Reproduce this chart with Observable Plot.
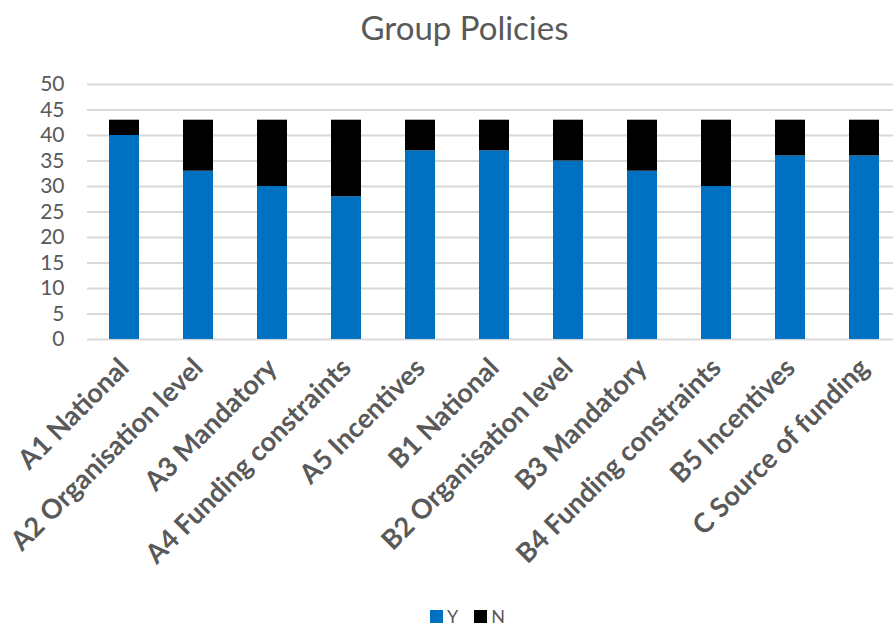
<!DOCTYPE html>
<html>
<head>
<meta charset="utf-8">
<script src="https://cdn.jsdelivr.net/npm/d3@7"></script>
<script src="https://cdn.jsdelivr.net/npm/@observablehq/plot@0.6"></script>
<style>
  html, body { margin: 0; padding: 0; background: #fff; }
  #wrap { position: relative; width: 893px; height: 628px; font-family: Lato, "Open Sans", sans-serif; color: #595959; }
  #title { position: absolute; left: 0; right: 0; top: 7px; text-align: center; font-size: 33px; padding-left: 36px; }
  #legend { position: absolute; top: 606px; left: 430px; display: flex; align-items: center; font-size: 18px; line-height: 20px; }
  #legend .sw { width: 13px; height: 13px; display: inline-block; margin-right: 4px; }
  #legend .item { display: flex; align-items: center; margin-right: 16px; }
  #chart { position: absolute; left: 0; top: 0; }
</style>
</head>
<body>
<div id="wrap">
  <div id="chart"></div>
  <div id="title">Group Policies</div>
  <div id="legend"></div>
</div>
<script>
// Policy categories and response counts
const categories = [
  "A1 National", "A2 Organisation level", "A3 Mandatory", "A4 Funding constraints", "A5 Incentives",
  "B1 National", "B2 Organisation level", "B3 Mandatory", "B4 Funding constraints", "B5 Incentives",
  "C Source of funding"
];
const yesCounts = [40, 33, 30, 28, 37, 37, 35, 33, 30, 36, 36];
const noCounts  = [3, 10, 13, 15, 6, 6, 8, 10, 13, 7, 7];
const seriesNames = ["Y", "N"];
const seriesColors = ["#0070C0", "#000000"];
const yTicks = [0, 5, 10, 15, 20, 25, 30, 35, 40, 45, 50];

const rows = [];
categories.forEach((c, i) => rows.push({category: c, series: "Y", value: yesCounts[i]}));
categories.forEach((c, i) => rows.push({category: c, series: "N", value: noCounts[i]}));

const chart = Plot.plot({
  width: 893,
  height: 628,
  marginTop: 84,
  marginBottom: 289,
  marginLeft: 87,
  marginRight: 0,
  style: {background: "transparent", fontFamily: "Lato, 'Open Sans', sans-serif"},
  x: {domain: categories, range: [87, 901], paddingInner: 0.595, paddingOuter: 0.2975, label: null},
  y: {domain: [0, 50], label: null},
  color: {domain: seriesNames, range: seriesColors},
  marks: [
    Plot.gridY(yTicks, {stroke: "#d9d9d9", strokeOpacity: 1, strokeWidth: 1.8}),
    Plot.barY(rows, Plot.stackY({x: "category", y: "value", fill: "series", order: seriesNames})),
    Plot.axisY(yTicks, {tickSize: 0, tickPadding: 23, fontSize: 21, fill: "#595959", label: null}),
    Plot.axisX({tickSize: 0, tickPadding: 24, tickRotate: -45, fontSize: 27, fontWeight: "bold", fill: "#595959", label: null})
  ]
});
document.getElementById("chart").appendChild(chart);

const legend = document.getElementById("legend");
seriesNames.forEach((s, i) => {
  const item = document.createElement("span");
  item.className = "item";
  item.innerHTML = `<span class="sw" style="background:${seriesColors[i]}"></span>${s}`;
  legend.appendChild(item);
});
</script>
</body>
</html>
